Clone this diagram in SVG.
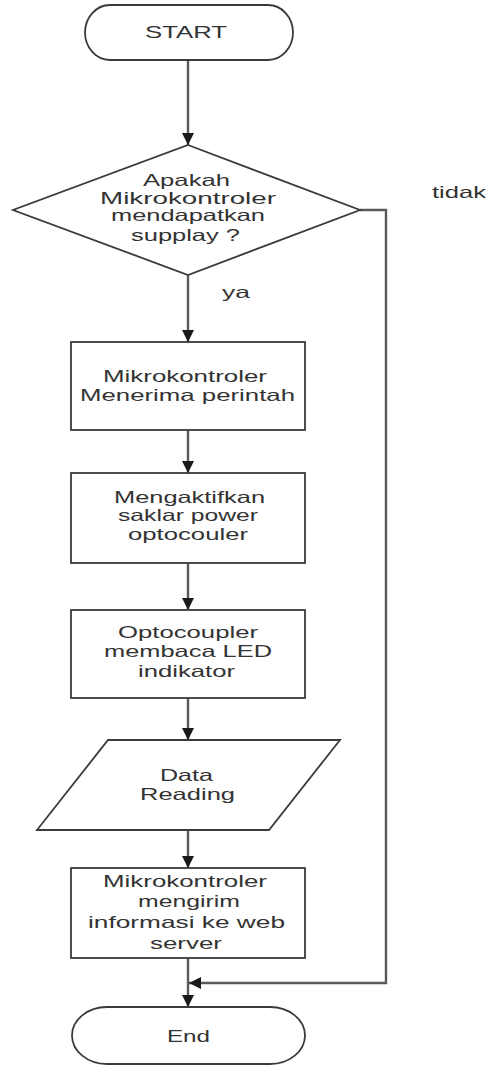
<svg xmlns="http://www.w3.org/2000/svg" width="492" height="1066" viewBox="0 0 492 1066">
<defs>
<style>
.shape{fill:#fff;stroke:#3a3a3a;stroke-width:1.8}
.conn{fill:none;stroke:#5a5a5a;stroke-width:2.4}
.t{font-family:"Liberation Sans",Arial,sans-serif;font-size:16.5px;fill:#333;text-anchor:middle}
.l{font-family:"Liberation Sans",Arial,sans-serif;font-size:16.5px;fill:#333;text-anchor:start}
</style>
<marker id="ah" viewBox="0 0 12 12" refX="12" refY="6" markerWidth="12" markerHeight="12" markerUnits="userSpaceOnUse" orient="auto">
<path d="M0,0 L12,6 L0,12 Z" fill="#1a1a1a"/>
</marker>
</defs>
<rect width="492" height="1066" fill="#fff"/>
<g id="connectors">
<line class="conn" x1="188" y1="60" x2="188" y2="145" marker-end="url(#ah)"/>
<line class="conn" x1="188" y1="275" x2="188" y2="342" marker-end="url(#ah)"/>
<line class="conn" x1="188" y1="430" x2="188" y2="473" marker-end="url(#ah)"/>
<line class="conn" x1="188" y1="563" x2="188" y2="610" marker-end="url(#ah)"/>
<line class="conn" x1="188" y1="698" x2="188" y2="740" marker-end="url(#ah)"/>
<line class="conn" x1="188" y1="830" x2="188" y2="868" marker-end="url(#ah)"/>
<line class="conn" x1="188" y1="958" x2="188" y2="1007" marker-end="url(#ah)"/>
<polyline class="conn" points="360,210 386,210 386,983 189,983" marker-end="url(#ah)"/>
<text class="l" x="222" y="298" textLength="28" lengthAdjust="spacingAndGlyphs">ya</text>
<text class="l" x="432" y="198" textLength="54" lengthAdjust="spacingAndGlyphs">tidak</text>
</g>
<g id="start">
<path class="shape" d="M110,5 H268 A25,27.5 0 0 1 268,60 H110 A25,27.5 0 0 1 110,5 Z"/>
<text class="t" x="186" y="38" textLength="82" lengthAdjust="spacingAndGlyphs">START</text>
</g>
<g id="decision">
<polygon class="shape" points="188,145 360,210 188,275 13,210"/>
<text class="t" x="186.5" y="186" textLength="87" lengthAdjust="spacingAndGlyphs">Apakah</text>
<text class="t" x="188" y="204" textLength="176" lengthAdjust="spacingAndGlyphs">Mikrokontroler</text>
<text class="t" x="188" y="221" textLength="154" lengthAdjust="spacingAndGlyphs">mendapatkan</text>
<text class="t" x="185.5" y="241" textLength="109" lengthAdjust="spacingAndGlyphs">supplay ?</text>
</g>
<g id="menerima">
<rect class="shape" x="71" y="342" width="234" height="88"/>
<text class="t" x="185" y="382" textLength="164" lengthAdjust="spacingAndGlyphs">Mikrokontroler</text>
<text class="t" x="187.5" y="401" textLength="215" lengthAdjust="spacingAndGlyphs">Menerima perintah</text>
</g>
<g id="aktifkan">
<rect class="shape" x="71" y="473" width="234" height="90"/>
<text class="t" x="189.5" y="503" textLength="151" lengthAdjust="spacingAndGlyphs">Mengaktifkan</text>
<text class="t" x="188" y="521" textLength="140" lengthAdjust="spacingAndGlyphs">saklar power</text>
<text class="t" x="188" y="540" textLength="120" lengthAdjust="spacingAndGlyphs">optocouler</text>
</g>
<g id="membaca">
<rect class="shape" x="71" y="610" width="234" height="88"/>
<text class="t" x="188" y="638" textLength="140" lengthAdjust="spacingAndGlyphs">Optocoupler</text>
<text class="t" x="188" y="657" textLength="168" lengthAdjust="spacingAndGlyphs">membaca LED</text>
<text class="t" x="186.5" y="677" textLength="97" lengthAdjust="spacingAndGlyphs">indikator</text>
</g>
<g id="data">
<polygon class="shape" points="108,740 340,740 269,830 37,830"/>
<text class="t" x="186.5" y="781" textLength="53" lengthAdjust="spacingAndGlyphs">Data</text>
<text class="t" x="187.5" y="800" textLength="95" lengthAdjust="spacingAndGlyphs">Reading</text>
</g>
<g id="kirim">
<rect class="shape" x="71" y="868" width="234" height="90"/>
<text class="t" x="185" y="887" textLength="164" lengthAdjust="spacingAndGlyphs">Mikrokontroler</text>
<text class="t" x="189" y="907" textLength="102" lengthAdjust="spacingAndGlyphs">mengirim</text>
<text class="t" x="186.5" y="928" textLength="197" lengthAdjust="spacingAndGlyphs">informasi ke web</text>
<text class="t" x="186" y="949" textLength="72" lengthAdjust="spacingAndGlyphs">server</text>
</g>
<g id="end">
<path class="shape" d="M107,1007 H270 A35,28.5 0 0 1 270,1064 H107 A35,28.5 0 0 1 107,1007 Z"/>
<text class="t" x="188.5" y="1042" textLength="43" lengthAdjust="spacingAndGlyphs">End</text>
</g>
</svg>
